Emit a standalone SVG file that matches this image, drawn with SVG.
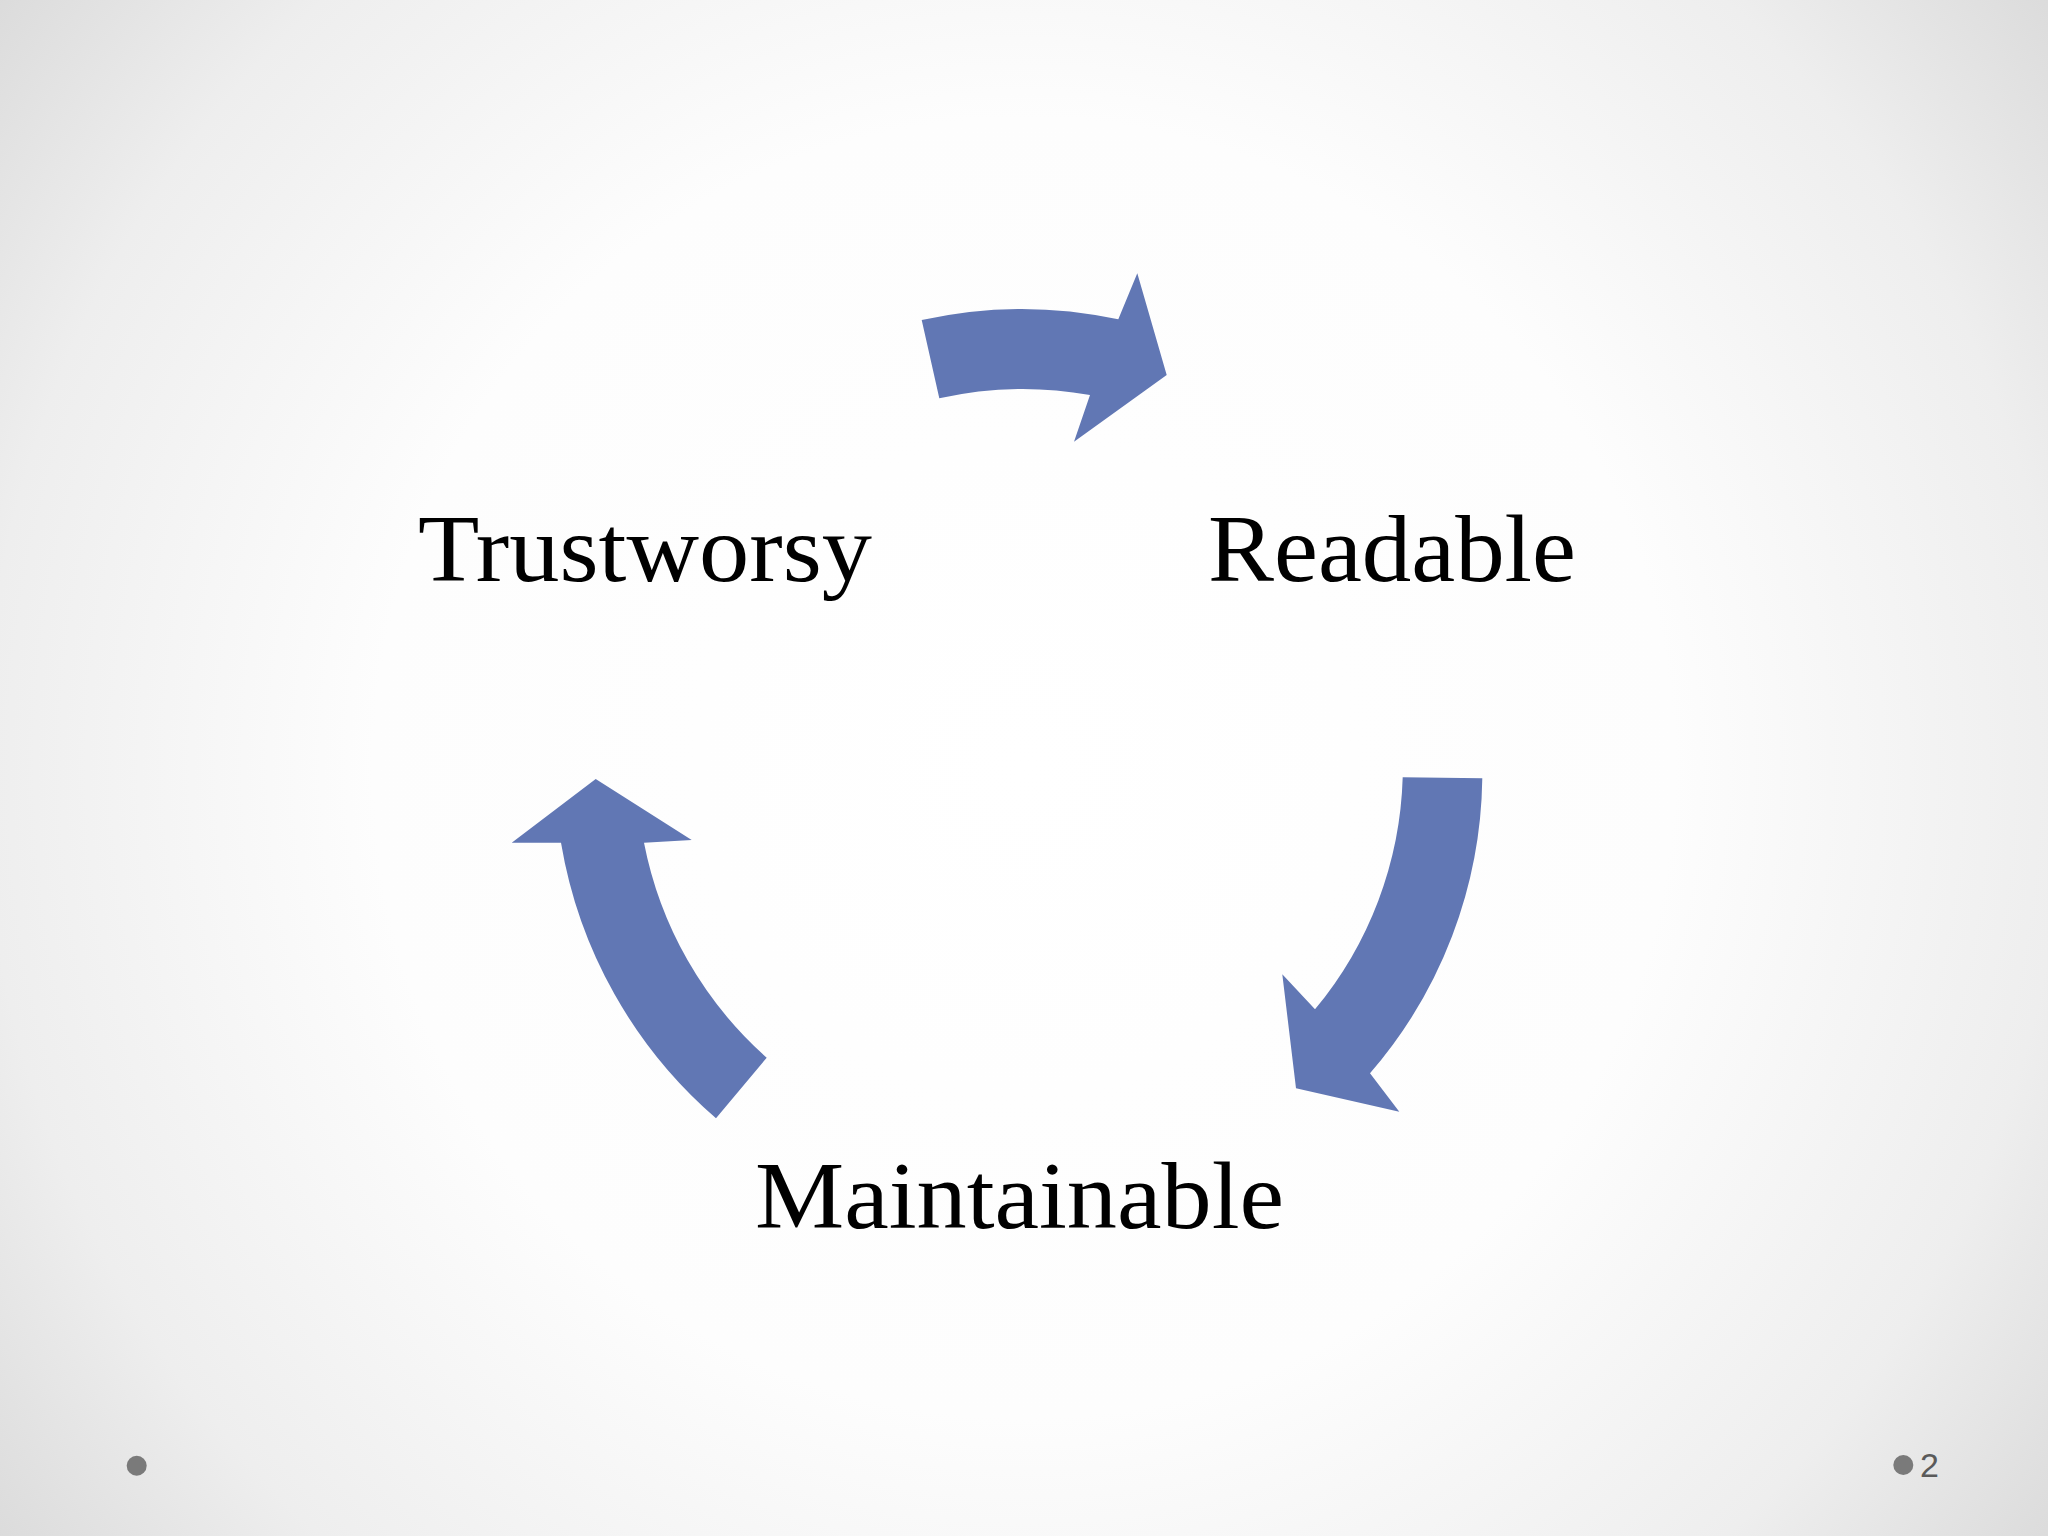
<svg xmlns="http://www.w3.org/2000/svg" width="2048" height="1536" viewBox="0 0 2048 1536">
<defs>
<radialGradient id="bg" cx="1024" cy="768" r="1300" gradientUnits="userSpaceOnUse">
<stop offset="0" stop-color="#ffffff"/>
<stop offset="0.5" stop-color="#fdfdfd"/>
<stop offset="0.8" stop-color="#eeeeee"/>
<stop offset="1" stop-color="#dadada"/>
</radialGradient>
<style>
.arrow{fill:#6177b4;}
.label{font-family:"Liberation Serif","DejaVu Serif",serif;font-size:96px;fill:#000;}
.dot{fill:#7a7a7a;}
.num{font-family:"Liberation Sans","DejaVu Sans",sans-serif;font-size:34px;fill:#5a5a5a;}
</style>
</defs>
<rect width="2048" height="1536" fill="url(#bg)"/>
<g id="connectors">
<path id="arrow-top" class="arrow" d="M921.7,320 A460,460 0 0 1 1118.3,319.3 L1137.3,273.3 L1166.7,375 L1074,441.7 L1090,395 A380,380 0 0 0 939.3,398.3 Z"/>
<path id="arrow-right" class="arrow" d="M1402.7,777.3 L1482.3,778.3 A460,460 0 0 1 1370,1073.3 L1399.3,1111.7 L1296,1088.3 L1282.3,974.3 L1315,1009.3 A380,380 0 0 0 1402.7,777.3 Z"/>
<path id="arrow-left" class="arrow" d="M716,1118.3 A466,466 0 0 1 561,842.7 L511.7,842.7 L595.7,779 L691.7,840 L644,842.7 A386,386 0 0 0 766.7,1057.7 Z"/>
</g>
<g id="node-trustworsy">
<text class="label" x="418" y="581" textLength="454" lengthAdjust="spacingAndGlyphs">Trustworsy</text>
</g>
<g id="node-readable">
<text class="label" x="1208" y="581" textLength="368" lengthAdjust="spacingAndGlyphs">Readable</text>
</g>
<g id="node-maintainable">
<text class="label" x="755" y="1228" textLength="529" lengthAdjust="spacingAndGlyphs">Maintainable</text>
</g>
<g id="footer">
<circle class="dot" cx="136.7" cy="1465.7" r="10"/>
<circle class="dot" cx="1903.3" cy="1465" r="10"/>
<text class="num" x="1920" y="1477">2</text>
</g>
</svg>
